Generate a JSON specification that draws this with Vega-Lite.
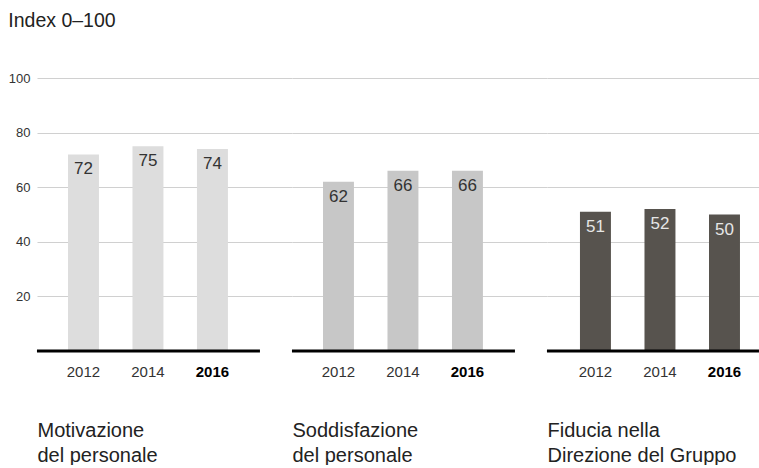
{
  "$schema": "https://vega.github.io/schema/vega-lite/v6.json",
  "padding": {"left": 8, "top": 11, "right": 0, "bottom": 0},
  "title": {"text": "Index 0–100", "anchor": "start", "frame": "bounds", "fontSize": 19.5, "fontWeight": "normal", "color": "#222", "font": "Liberation Sans", "offset": 40.5},
  "data": {"values": [
    {"group": "Motivazione", "year": "2012", "value": 72},
    {"group": "Motivazione", "year": "2014", "value": 75},
    {"group": "Motivazione", "year": "2016", "value": 74},
    {"group": "Soddisfazione", "year": "2012", "value": 62},
    {"group": "Soddisfazione", "year": "2014", "value": 66},
    {"group": "Soddisfazione", "year": "2016", "value": 66},
    {"group": "Fiducia", "year": "2012", "value": 51},
    {"group": "Fiducia", "year": "2014", "value": 52},
    {"group": "Fiducia", "year": "2016", "value": 50}
  ]},
  "spacing": 0,
  "bounds": "flush",
  "resolve": {"scale": {"x": "independent"}},
  "config": {
    "view": {"stroke": null},
    "font": "Liberation Sans",
    "axisY": {"title": null, "domain": false, "ticks": false, "labelPadding": 7, "labelFontSize": 13, "labelColor": "#333", "gridColor": "#d0d0d0", "gridWidth": 1.2},
    "axisX": {"domain": false, "ticks": false, "grid": false, "labelPadding": 13, "labelFontSize": 15, "labelAngle": 0,
      "titleFontSize": 20, "titleFontWeight": "normal", "titleColor": "#222", "titleAnchor": "start", "titleAlign": "left", "titleBaseline": "top", "titleLineHeight": 25, "titlePadding": 41}
  },
  "hconcat": [
    {
      "width": 255, "height": 273,
      "transform": [{"filter": "datum.group == 'Motivazione'"}],
      "layer": [
        {"mark": {"type": "bar"},
         "encoding": {
           "x": {"field": "year", "type": "ordinal", "scale": {"paddingInner": 0.52, "paddingOuter": 0.737, "align": 0.326},
                 "axis": {"title": ["Motivazione", "del personale"],
                          "labelFontWeight": {"condition": {"test": "datum.label == '2016'", "value": "bold"}, "value": "normal"},
                          "labelColor": {"condition": {"test": "datum.label == '2016'", "value": "#000"}, "value": "#333"}}},
           "y": {"field": "value", "type": "quantitative", "scale": {"domain": [0, 100], "nice": false}, "axis": {"values": [20, 40, 60, 80, 100], "labels": true}},
           "color": {"field": "group", "type": "nominal", "scale": {"domain": ["Motivazione", "Soddisfazione", "Fiducia"], "range": ["#dddddd", "#c7c7c7", "#57534e"]}, "legend": null}
         }},
        {"mark": {"type": "text", "baseline": "top", "dy": 7, "fontSize": 17, "color": "#333"},
         "encoding": {
           "x": {"field": "year", "type": "ordinal"},
           "y": {"field": "value", "type": "quantitative"},
           "text": {"field": "value", "type": "quantitative"}
         }},
        {"transform": [{"filter": "datum.year == '2012'"}],
         "mark": {"type": "rule", "color": "#000", "strokeWidth": 3, "xOffset": -46.5, "x2Offset": 47.5},
         "encoding": {
           "x": {"field": "year", "type": "ordinal"},
           "x2": {"datum": "2016"},
           "y": {"datum": 0}
         }}
      ]
    },
    {
      "width": 255, "height": 273,
      "transform": [{"filter": "datum.group == 'Soddisfazione'"}],
      "layer": [
        {"mark": {"type": "bar"},
         "encoding": {
           "x": {"field": "year", "type": "ordinal", "scale": {"paddingInner": 0.52, "paddingOuter": 0.737, "align": 0.326},
                 "axis": {"title": ["Soddisfazione", "del personale"],
                          "labelFontWeight": {"condition": {"test": "datum.label == '2016'", "value": "bold"}, "value": "normal"},
                          "labelColor": {"condition": {"test": "datum.label == '2016'", "value": "#000"}, "value": "#333"}}},
           "y": {"field": "value", "type": "quantitative", "scale": {"domain": [0, 100], "nice": false}, "axis": {"values": [20, 40, 60, 80, 100], "labels": false}},
           "color": {"field": "group", "type": "nominal", "scale": {"domain": ["Motivazione", "Soddisfazione", "Fiducia"], "range": ["#dddddd", "#c7c7c7", "#57534e"]}, "legend": null}
         }},
        {"mark": {"type": "text", "baseline": "top", "dy": 7, "fontSize": 17, "color": "#333"},
         "encoding": {
           "x": {"field": "year", "type": "ordinal"},
           "y": {"field": "value", "type": "quantitative"},
           "text": {"field": "value", "type": "quantitative"}
         }},
        {"transform": [{"filter": "datum.year == '2012'"}],
         "mark": {"type": "rule", "color": "#000", "strokeWidth": 3, "xOffset": -46.5, "x2Offset": 47.5},
         "encoding": {
           "x": {"field": "year", "type": "ordinal"},
           "x2": {"datum": "2016"},
           "y": {"datum": 0}
         }}
      ]
    },
    {
      "width": 212, "height": 273,
      "transform": [{"filter": "datum.group == 'Fiducia'"}],
      "layer": [
        {"mark": {"type": "bar"},
         "encoding": {
           "x": {"field": "year", "type": "ordinal", "scale": {"paddingInner": 0.52, "paddingOuter": 0.403, "align": 0.634},
                 "axis": {"title": ["Fiducia nella", "Direzione del Gruppo"],
                          "labelFontWeight": {"condition": {"test": "datum.label == '2016'", "value": "bold"}, "value": "normal"},
                          "labelColor": {"condition": {"test": "datum.label == '2016'", "value": "#000"}, "value": "#333"}}},
           "y": {"field": "value", "type": "quantitative", "scale": {"domain": [0, 100], "nice": false}, "axis": {"values": [20, 40, 60, 80, 100], "labels": false}},
           "color": {"field": "group", "type": "nominal", "scale": {"domain": ["Motivazione", "Soddisfazione", "Fiducia"], "range": ["#dddddd", "#c7c7c7", "#57534e"]}, "legend": null}
         }},
        {"mark": {"type": "text", "baseline": "top", "dy": 7, "fontSize": 17, "color": "#e6e6e6"},
         "encoding": {
           "x": {"field": "year", "type": "ordinal"},
           "y": {"field": "value", "type": "quantitative"},
           "text": {"field": "value", "type": "quantitative"}
         }},
        {"transform": [{"filter": "datum.year == '2012'"}],
         "mark": {"type": "rule", "color": "#000", "strokeWidth": 3, "xOffset": -48.5, "x2Offset": 34.5},
         "encoding": {
           "x": {"field": "year", "type": "ordinal"},
           "x2": {"datum": "2016"},
           "y": {"datum": 0}
         }}
      ]
    }
  ]
}
